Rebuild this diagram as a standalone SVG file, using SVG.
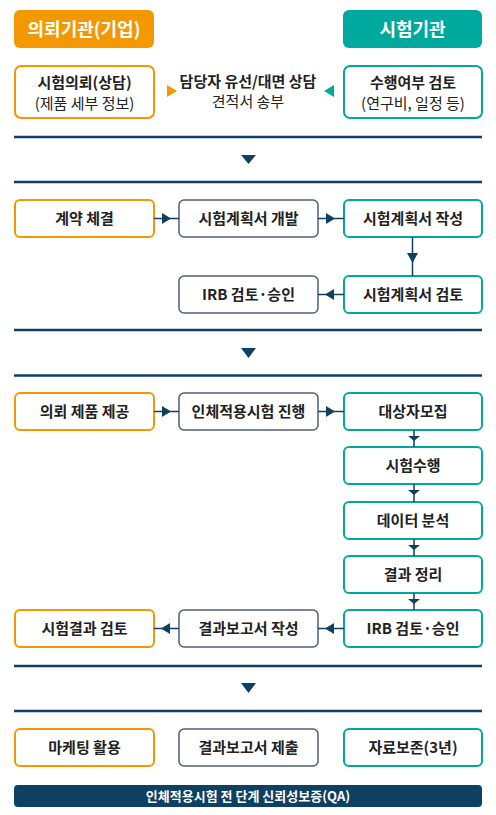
<svg xmlns="http://www.w3.org/2000/svg" width="496" height="815" viewBox="0 0 496 815">
<style>
text{font-family:"Noto Sans CJK KR","Noto Sans",sans-serif;text-anchor:middle;}
.lbl{font-size:15px;font-weight:700;fill:#222;}
.sub{font-size:15px;font-weight:400;fill:#222;}
.hdr{font-size:18px;font-weight:700;fill:#fff;}
.o{fill:#fff;stroke:#f39800;stroke-width:2;}
.t{fill:#fff;stroke:#00a99d;stroke-width:2;}
.m{fill:#fff;stroke:#4d5d7d;stroke-width:1.5;}
.sep{stroke:#0d4061;stroke-width:2.5;}
.ln{stroke:#0d4061;stroke-width:1.5;fill:none;}
.ah{fill:#0d4061;}
</style>
<rect width="496" height="815" fill="#fff"/>
<g id="hdr-client"><rect x="14" y="10" width="140" height="38" rx="6" fill="#f39800"/><text class="hdr" x="84" y="35.5">의뢰기관(기업)</text></g>
<g id="hdr-lab"><rect x="343" y="10" width="139" height="38" rx="6" fill="#00a99d"/><text class="hdr" x="412.5" y="35.5">시험기관</text></g>
<g id="n-request"><rect class="o" x="15" y="66" width="139" height="52" rx="6"/><text class="lbl" x="84.5" y="87.5">시험의뢰(상담)</text><text class="sub" x="84.5" y="108.5">(제품 세부 정보)</text></g>
<g id="n-consult"><text class="lbl" x="248" y="86.5">담당자 유선/대면 상담</text><text class="sub" x="248" y="106.5">견적서 송부</text></g>
<g id="n-review"><rect class="t" x="344" y="66" width="138" height="52" rx="6"/><text class="lbl" x="413" y="87.5">수행여부 검토</text><text class="sub" x="413" y="108.5">(연구비, 일정 등)</text></g>

<g id="n-contract"><rect class="o" x="15" y="200" width="139" height="37" rx="5"/><text class="lbl" x="84.5" y="224">계약 체결</text></g>
<g id="n-plandev"><rect class="m" x="179" y="200" width="139" height="37" rx="5"/><text class="lbl" x="248.5" y="224">시험계획서 개발</text></g>
<g id="n-planwrite"><rect class="t" x="344" y="200" width="138" height="37" rx="5"/><text class="lbl" x="413" y="224">시험계획서 작성</text></g>
<g id="n-irb1"><rect class="m" x="179" y="276" width="139" height="37" rx="5"/><text class="lbl" x="248.5" y="300">IRB 검토·승인</text></g>
<g id="n-planreview"><rect class="t" x="344" y="276" width="138" height="37" rx="5"/><text class="lbl" x="413" y="300">시험계획서 검토</text></g>

<g id="n-supply"><rect class="o" x="15" y="393" width="139" height="37" rx="5"/><text class="lbl" x="84.5" y="417">의뢰 제품 제공</text></g>
<g id="n-conduct"><rect class="m" x="179" y="393" width="139" height="37" rx="5"/><text class="lbl" x="248.5" y="417">인체적용시험 진행</text></g>
<g id="n-recruit"><rect class="t" x="344" y="393" width="138" height="37" rx="5"/><text class="lbl" x="413" y="417">대상자모집</text></g>
<g id="n-perform"><rect class="t" x="344" y="447" width="138" height="37" rx="5"/><text class="lbl" x="413" y="471">시험수행</text></g>
<g id="n-analysis"><rect class="t" x="344" y="502" width="138" height="37" rx="5"/><text class="lbl" x="413" y="526">데이터 분석</text></g>
<g id="n-summary"><rect class="t" x="344" y="556" width="138" height="37" rx="5"/><text class="lbl" x="413" y="580">결과 정리</text></g>
<g id="n-irb2"><rect class="t" x="344" y="610" width="138" height="37" rx="5"/><text class="lbl" x="413" y="634">IRB 검토·승인</text></g>
<g id="n-report"><rect class="m" x="179" y="610" width="139" height="37" rx="5"/><text class="lbl" x="248.5" y="634">결과보고서 작성</text></g>
<g id="n-resultreview"><rect class="o" x="15" y="610" width="139" height="37" rx="5"/><text class="lbl" x="84.5" y="634">시험결과 검토</text></g>

<g id="n-marketing"><rect class="o" x="15" y="729" width="139" height="37" rx="5"/><text class="lbl" x="84.5" y="753">마케팅 활용</text></g>
<g id="n-submit"><rect class="m" x="179" y="729" width="139" height="37" rx="5"/><text class="lbl" x="248.5" y="753">결과보고서 제출</text></g>
<g id="n-archive"><rect class="t" x="344" y="729" width="138" height="37" rx="5"/><text class="lbl" x="413" y="753">자료보존(3년)</text></g>

<g id="n-qa"><rect x="14" y="785" width="468" height="22" rx="4" fill="#0d4061"/><text x="248" y="801" style="font-size:13px;font-weight:700;fill:#fff;">인체적용시험 전 단계 신뢰성보증(QA)</text></g>

<g id="connectors">
<polygon points="167,85 177,91 167,97" fill="#f39800"/>
<polygon points="334,85 324,91 334,97" fill="#00a99d"/>
<line class="sep" x1="14" y1="137" x2="482" y2="137"/>
<polygon class="ah" points="241,155 256,155 248.5,164"/>
<line class="sep" x1="14" y1="182" x2="482" y2="182"/>
<line class="ln" x1="154" y1="218.5" x2="179" y2="218.5"/>
<polygon class="ah" points="162,213 171,218.5 162,224"/>
<line class="ln" x1="318" y1="218.5" x2="344" y2="218.5"/>
<polygon class="ah" points="326,213 335,218.5 326,224"/>
<line class="ln" x1="412.5" y1="237" x2="412.5" y2="276"/>
<polygon class="ah" points="407,253 418,253 412.5,263"/>
<line class="ln" x1="344" y1="294.5" x2="318" y2="294.5"/>
<polygon class="ah" points="334,289 325,294.5 334,300"/>
<line class="sep" x1="14" y1="330" x2="482" y2="330"/>
<polygon class="ah" points="241,348 256,348 248.5,358"/>
<line class="sep" x1="14" y1="375.5" x2="482" y2="375.5"/>
<line class="ln" x1="154" y1="411.5" x2="179" y2="411.5"/>
<polygon class="ah" points="162,406 171,411.5 162,417"/>
<line class="ln" x1="318" y1="411.5" x2="344" y2="411.5"/>
<polygon class="ah" points="326,406 335,411.5 326,417"/>
<line class="ln" x1="414" y1="430" x2="414" y2="447"/>
<polygon class="ah" points="408,436 420,436 414,441"/>
<line class="ln" x1="414" y1="484" x2="414" y2="502"/>
<polygon class="ah" points="408,490 420,490 414,495"/>
<line class="ln" x1="414" y1="539" x2="414" y2="556"/>
<polygon class="ah" points="408,545 420,545 414,550"/>
<line class="ln" x1="414" y1="593" x2="414" y2="610"/>
<polygon class="ah" points="408,599 420,599 414,604"/>
<line class="ln" x1="344" y1="628.5" x2="318" y2="628.5"/>
<polygon class="ah" points="334,623 325,628.5 334,634"/>
<line class="ln" x1="179" y1="628.5" x2="154" y2="628.5"/>
<polygon class="ah" points="170,623 161,628.5 170,634"/>
<line class="sep" x1="14" y1="666" x2="482" y2="666"/>
<polygon class="ah" points="241,683 256,683 248.5,693"/>
<line class="sep" x1="14" y1="711" x2="482" y2="711"/>
</g>
</svg>
